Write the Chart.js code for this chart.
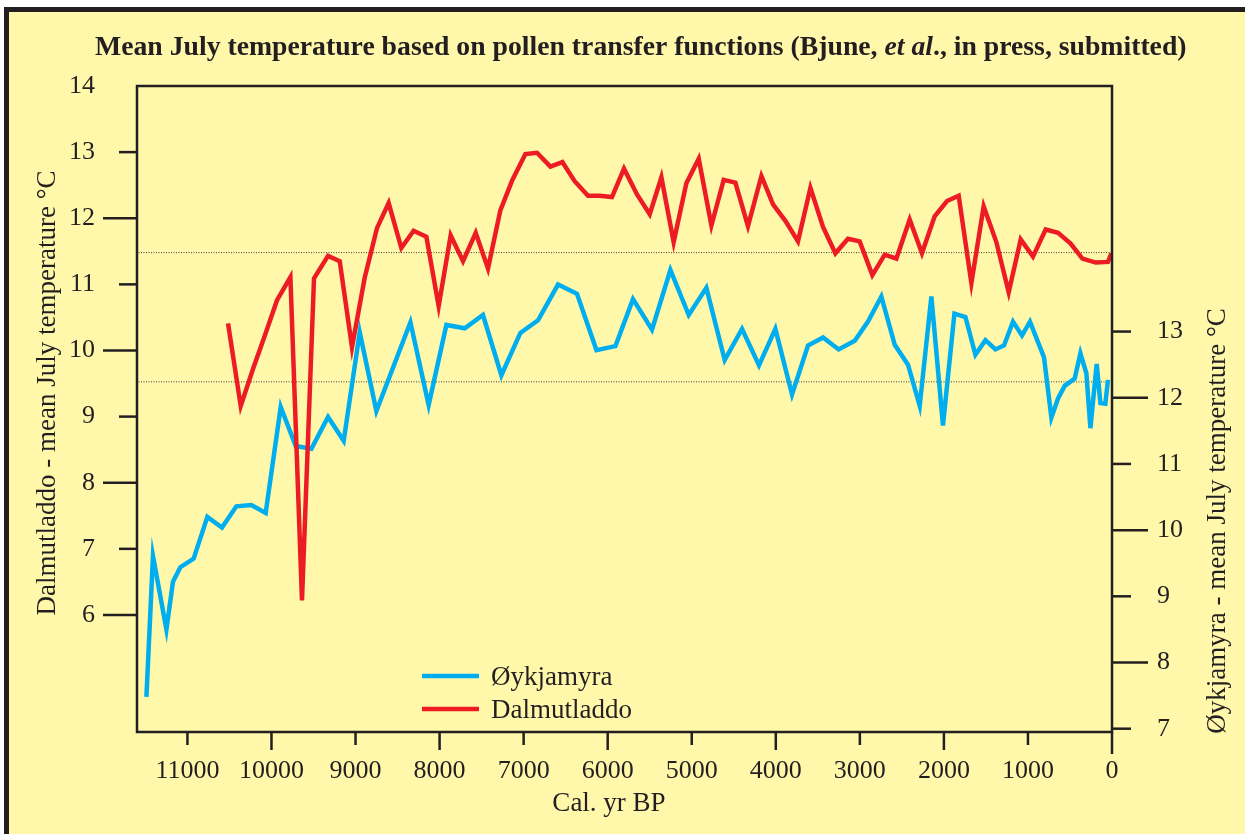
<!DOCTYPE html>
<html lang="en">
<head>
  <meta charset="UTF-8">
  <title>Mean July temperature based on pollen transfer functions</title>
  <script src="https://cdn.jsdelivr.net/npm/chart.js"></script>
  <style>
    html, body {
      margin: 0;
      padding: 0;
      background: #fff;
    }
    .wrap {
      position: relative;
      width: 1245px;
      height: 834px;
    }
  </style>
</head>
<body>
  <div class="wrap">
    <canvas id="tempChart" width="1245" height="834"></canvas>
  </div>

  <script>
    // Øykjamyra (right axis), cal. yr BP
    const oykYears = [11488, 11410, 11250, 11172, 11084, 10926, 10763, 10589, 10418, 10239, 10069, 9890,
      9712, 9525, 9327, 9141, 8950, 8752, 8347, 8130, 7919, 7701, 7484, 7265, 7039, 6829, 6591, 6365,
      6134, 5908, 5699, 5473, 5254, 5036, 4826, 4608, 4402, 4200, 4005, 3807, 3617, 3438, 3252, 3061,
      2903, 2744, 2585, 2427, 2288, 2149, 2011, 1875, 1744, 1625, 1506, 1387, 1285, 1178, 1071, 976,
      809, 721, 642, 563, 444, 376, 305, 257, 182, 138, 79, 48];
    const oykTemps = [7.48, 9.61, 8.50, 9.22, 9.44, 9.57, 10.20, 10.04, 10.36, 10.38, 10.26, 11.86,
      11.27, 11.23, 11.71, 11.35, 12.99, 11.80, 13.14, 11.89, 13.10, 13.05, 13.25, 12.34, 12.98, 13.17, 13.71, 13.57,
      12.72, 12.78, 13.49, 13.03, 13.93, 13.25, 13.66, 12.57, 13.04, 12.49, 13.04, 12.05, 12.79, 12.91, 12.73, 12.86,
      13.15, 13.53, 12.80, 12.50, 11.88, 13.53, 11.58, 13.27, 13.22, 12.65, 12.87, 12.73, 12.79, 13.15, 12.94, 13.15,
      12.61, 11.70, 11.99, 12.18, 12.29, 12.67, 12.37, 11.54, 12.51, 11.92, 11.91, 12.27];

    // Dalmutladdo (left axis)
    const dalYears = [10517, 10366, 10220, 10081, 9934, 9775, 9637, 9494, 9327, 9188, 9042, 8891, 8745,
      8606, 8455, 8309, 8157, 8011, 7868, 7721, 7570, 7424, 7277, 7134, 6979, 6841, 6682, 6539, 6393,
      6234, 6095, 5949, 5806, 5651, 5500, 5361, 5215, 5064, 4917, 4766, 4620, 4481, 4331, 4171, 4033,
      3886, 3736, 3588, 3438, 3291, 3141, 3002, 2851, 2704, 2565, 2407, 2261, 2110, 1963, 1824, 1673,
      1527, 1376, 1229, 1086, 940, 789, 642, 495, 352, 194, 48, 7];
    const dalTemps = [10.41, 9.16, 9.72, 10.22, 10.76, 11.11, 6.22, 11.09, 11.43, 11.35, 10.05, 11.10, 11.85,
      12.23, 11.55, 11.81, 11.72, 10.67, 11.74, 11.35, 11.78, 11.24, 12.12, 12.58, 12.97, 12.99, 12.78, 12.85, 12.56,
      12.34, 12.34, 12.32, 12.75, 12.36, 12.06, 12.62, 11.64, 12.53, 12.90, 11.89, 12.58, 12.54, 11.88, 12.64, 12.21,
      11.96, 11.65, 12.46, 11.87, 11.47, 11.69, 11.65, 11.14, 11.45, 11.39, 11.98, 11.47, 12.03, 12.26, 12.34, 11.02,
      12.18, 11.64, 10.88, 11.68, 11.42, 11.83, 11.78, 11.62, 11.39, 11.33, 11.34, 11.47];

    // dotted reference levels
    const dalRef = 11.48;   // left axis
    const oykRef = 12.24;   // right axis

    const xTicks = [0, 1000, 2000, 3000, 4000, 5000, 6000, 7000, 8000, 9000, 10000, 11000];
    const leftTicks = [6, 7, 8, 9, 10, 11, 12, 13, 14];
    const rightTicks = [7, 8, 9, 10, 11, 12, 13];

    const INK = '#231f20';
    const PAPER = '#fff8ab';
    const BLUE = '#00aeef';
    const RED = '#ed1c24';
    const SERIF = "'Liberation Serif', 'Times New Roman', serif";

    const toPoints = (xs, ys) => xs.map((x, i) => ({ x: x, y: ys[i] }));

    function tickLine(ctx, x1, y1, x2, y2) {
      ctx.beginPath();
      ctx.moveTo(x1, y1);
      ctx.lineTo(x2, y2);
      ctx.stroke();
    }

    // background, frame, ticks, titles and legend
    const paperPlugin = {
      id: 'paper',
      beforeDraw(chart) {
        const { ctx, width, height } = chart;
        ctx.save();
        ctx.fillStyle = '#ffffff';
        ctx.fillRect(0, 0, width, height);
        ctx.fillStyle = PAPER;
        ctx.fillRect(4, 7, width - 4, height - 7);
        ctx.fillStyle = INK;
        ctx.fillRect(4, 7, width - 4, 5);
        ctx.fillRect(4, 7, 5, height - 7);
        ctx.restore();
      },
      afterDraw(chart) {
        const { ctx, chartArea: a, scales } = chart;
        ctx.save();
        ctx.strokeStyle = INK;
        ctx.lineWidth = 2.5;
        ctx.strokeRect(a.left, a.top, a.right - a.left, a.bottom - a.top);

        // tick marks, long on even values
        leftTicks.forEach(v => {
          if (v === 14) return;
          const y = scales.y.getPixelForValue(v);
          tickLine(ctx, a.left - (v % 2 === 0 ? 34 : 18), y, a.left, y);
        });
        rightTicks.forEach(v => {
          const y = scales.y1.getPixelForValue(v);
          tickLine(ctx, a.right, y, a.right + (v % 2 === 0 ? 36 : 19), y);
        });
        xTicks.forEach(v => {
          const x = scales.x.getPixelForValue(v);
          const len = v === 0 ? 22 : ((v / 1000) % 2 === 0 ? 18 : 13);
          tickLine(ctx, x, a.bottom, x, a.bottom + len);
        });

        // main title, sized to its width in the figure
        const parts = [
          ['bold', 'Mean July temperature based on pollen transfer functions (Bjune, '],
          ['italic bold', 'et al'],
          ['bold', '., in press, submitted)']
        ];
        let total = 0;
        parts.forEach(p => {
          ctx.font = p[0] + ' 25px ' + SERIF;
          total += ctx.measureText(p[1]).width;
        });
        const size = 25 * 1092 / total;
        let tx = 641 - 1092 / 2;
        ctx.fillStyle = INK;
        ctx.textBaseline = 'alphabetic';
        ctx.textAlign = 'left';
        parts.forEach(p => {
          ctx.font = p[0] + ' ' + size + 'px ' + SERIF;
          ctx.fillText(p[1], tx, 55);
          tx += ctx.measureText(p[1]).width;
        });

        // axis titles
        ctx.font = '27px ' + SERIF;
        ctx.textAlign = 'center';
        ctx.fillText('Cal. yr BP', 609, 811);

        ctx.save();
        ctx.translate(55, 393);
        ctx.rotate(-Math.PI / 2);
        ctx.fillText('Dalmutladdo - mean July temperature °C', 0, 0);
        ctx.restore();

        ctx.save();
        ctx.translate(1225, 521);
        ctx.rotate(-Math.PI / 2);
        ctx.fillText('Øykjamyra - mean July temperature °C', 0, 0);
        ctx.restore();

        // legend
        ctx.textAlign = 'left';
        ctx.lineWidth = 4.5;
        const items = [chart.data.datasets[0], chart.data.datasets[1]];
        items.forEach((ds, i) => {
          const ly = 676 + i * 33;
          ctx.strokeStyle = ds.borderColor;
          tickLine(ctx, 422, ly, 479, ly);
          ctx.fillText(ds.label, 491, ly + 9);
        });
        ctx.restore();
      }
    };

    const tickFont = { family: SERIF, size: 26 };

    new Chart(document.getElementById('tempChart'), {
      type: 'line',
      data: {
        datasets: [
          {
            label: 'Øykjamyra',
            data: toPoints(oykYears, oykTemps),
            yAxisID: 'y1',
            borderColor: BLUE,
            borderWidth: 4.5,
            pointRadius: 0,
            tension: 0,
            order: 2
          },
          {
            label: 'Dalmutladdo',
            data: toPoints(dalYears, dalTemps),
            yAxisID: 'y',
            borderColor: RED,
            borderWidth: 4.5,
            pointRadius: 0,
            tension: 0,
            order: 1
          },
          {
            label: 'Dalmutladdo level',
            data: [{ x: 0, y: dalRef }, { x: 11600, y: dalRef }],
            yAxisID: 'y',
            borderColor: '#3b3b3b',
            borderWidth: 1,
            borderDash: [1, 1.5],
            pointRadius: 0,
            order: 3
          },
          {
            label: 'Øykjamyra level',
            data: [{ x: 0, y: oykRef }, { x: 11600, y: oykRef }],
            yAxisID: 'y1',
            borderColor: '#3b3b3b',
            borderWidth: 1,
            borderDash: [1, 1.5],
            pointRadius: 0,
            order: 3
          }
        ]
      },
      options: {
        responsive: false,
        animation: false,
        layout: {
          padding: { top: 86, left: 0, right: 0, bottom: 0 }
        },
        plugins: {
          legend: { display: false },
          tooltip: { enabled: false }
        },
        scales: {
          x: {
            type: 'linear',
            reverse: true,
            min: 0,
            max: 11600,
            afterBuildTicks: s => { s.ticks = xTicks.map(v => ({ value: v })); },
            afterFit: s => { s.height = 102; },
            border: { display: false },
            grid: { drawOnChartArea: false, color: 'transparent', tickLength: 18 },
            ticks: {
              font: tickFont,
              color: INK,
              padding: 6,
              autoSkip: false,
              maxRotation: 0,
              callback: v => String(v)
            }
          },
          y: {
            position: 'left',
            min: 4.23,
            max: 14,
            afterBuildTicks: s => { s.ticks = leftTicks.map(v => ({ value: v })); },
            afterFit: s => { s.width = 137; },
            border: { display: false },
            grid: { drawOnChartArea: false, color: 'transparent', tickLength: 34 },
            ticks: {
              font: tickFont,
              color: INK,
              padding: 8,
              callback: v => String(v)
            }
          },
          y1: {
            position: 'right',
            min: 6.95,
            max: 16.71,
            afterBuildTicks: s => { s.ticks = rightTicks.map(v => ({ value: v })); },
            afterFit: s => { s.width = 133; },
            border: { display: false },
            grid: { drawOnChartArea: false, color: 'transparent', tickLength: 36 },
            ticks: {
              font: tickFont,
              color: INK,
              padding: 9,
              callback: v => String(v)
            }
          }
        }
      },
      plugins: [paperPlugin]
    });
  </script>
</body>
</html>
